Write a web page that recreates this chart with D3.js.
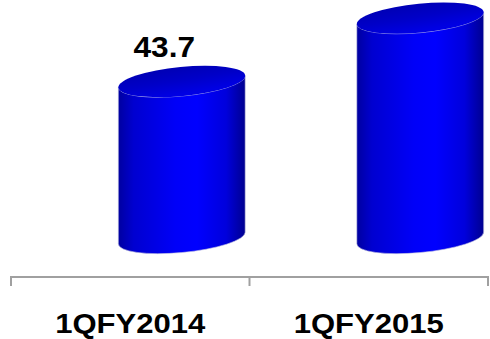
<!DOCTYPE html>
<html>
<head>
<meta charset="utf-8">
<script src="https://cdn.jsdelivr.net/npm/d3@7"></script>
<style>
  html, body { margin: 0; padding: 0; background: #fff; }
  svg { display: block; }
  text { font-family: "Liberation Sans", Arial, sans-serif; font-weight: bold; fill: #000; }
</style>
</head>
<body>
<svg id="chart" width="490" height="339"></svg>
<script>
// Quarterly figures shown as 3D cylinders
const categories = ["1QFY2014", "1QFY2015"];
const values = [43.7, 61.4];
// only the first cylinder carries a value label
const valueLabels = ["43.7", null];

const W = 490, H = 339;
const svg = d3.select("#chart");

// Band scale spans the category axis; ticks sit on band edges
const x = d3.scaleBand().domain(categories).range([11, 488]).paddingInner(0).paddingOuter(0);
// Value scale: zero sits on the cylinder base centre line
const y = d3.scaleLinear().domain([0, 70]).range([238, 238 - 70 * 3.581]);

const barWidth = x.bandwidth() * 0.532;
const barShift = 51.5;           // perspective offset of cylinders from band centre
const labelShift = -17.5;        // value label offset from cylinder centre
const textStretch = 1.09;

// Ellipse geometry for the tilted cylinder caps
const phi = -5.5 * Math.PI / 180;
const b = 14.5;
const halfW = barWidth / 2;
// choose a so the horizontal half-extent equals halfW
const a = Math.sqrt((halfW * halfW - b * b * Math.sin(phi) ** 2) / (Math.cos(phi) ** 2));
const t0 = Math.atan2(-b * Math.sin(phi), a * Math.cos(phi));
const rightDx = a * Math.cos(phi) * Math.cos(t0) - b * Math.sin(phi) * Math.sin(t0);
const rightDy = a * Math.sin(phi) * Math.cos(t0) + b * Math.cos(phi) * Math.sin(t0);
const rotDeg = phi * 180 / Math.PI;

const defs = svg.append("defs");
const side = defs.append("linearGradient").attr("id", "sideGrad")
  .attr("x1", "0").attr("x2", "1").attr("y1", "0").attr("y2", "0");
[[0, "#0000a0"], [0.12, "#0000d0"], [0.45, "#0000f8"], [0.62, "#0000ff"], [0.85, "#0000dc"], [1, "#000090"]]
  .forEach(([o, c]) => side.append("stop").attr("offset", o).attr("stop-color", c));
const topG = defs.append("linearGradient").attr("id", "topGrad")
  .attr("x1", "0").attr("x2", "0.3").attr("y1", "0").attr("y2", "1");
[[0, "#0000b0"], [0.55, "#0000c8"], [1, "#0000e4"]]
  .forEach(([o, c]) => topG.append("stop").attr("offset", o).attr("stop-color", c));

const bars = svg.append("g").selectAll("g").data(categories).join("g");

bars.each(function (c, i) {
  const g = d3.select(this);
  const cx = x(c) + x.bandwidth() / 2 + barShift;
  const yb = y(0), yt = y(values[i]);
  const L = (cy) => [cx - rightDx, cy - rightDy];
  const R = (cy) => [cx + rightDx, cy + rightDy];
  const [lbx, lby] = L(yb), [rbx, rby] = R(yb);
  const [ltx, lty] = L(yt), [rtx, rty] = R(yt);
  // body: left side, front half of base ellipse, right side, front half of top ellipse
  const body = `M${ltx},${lty} L${lbx},${lby} A${a},${b} ${rotDeg} 0 0 ${rbx},${rby} L${rtx},${rty} A${a},${b} ${rotDeg} 0 1 ${ltx},${lty} Z`;
  g.append("path").attr("d", body).attr("fill", "url(#sideGrad)")
    .attr("stroke", "#c8c8e0").attr("stroke-width", 0.6);
  g.append("ellipse")
    .attr("cx", 0).attr("cy", 0).attr("rx", a).attr("ry", b)
    .attr("transform", `translate(${cx},${yt}) rotate(${rotDeg})`)
    .attr("fill", "url(#topGrad)");
  if (valueLabels[i]) {
    g.append("text")
      .attr("text-anchor", "middle")
      .attr("font-size", 29)
      .attr("transform", `translate(${cx + labelShift},${yt - 24.5}) scale(${textStretch},1)`)
      .text(valueLabels[i]);
  }
});

// Category axis with ticks on band boundaries
const axisY = 277;
const edges = categories.map(c => x(c)).concat([x.range()[1]]);
const axis = svg.append("g").attr("stroke", "#a0a0a0").attr("stroke-width", 2);
axis.append("line").attr("x1", x.range()[0] - 1).attr("x2", x.range()[1] + 1)
  .attr("y1", axisY).attr("y2", axisY);
axis.selectAll("line.tick").data(edges).join("line").attr("class", "tick")
  .attr("x1", d => d).attr("x2", d => d).attr("y1", axisY).attr("y2", axisY + 9);

svg.append("g").selectAll("text").data(categories).join("text")
  .attr("text-anchor", "middle")
  .attr("font-size", 28.5)
  .attr("transform", d => `translate(${x(d) + x.bandwidth() / 2},333) scale(${textStretch},1)`)
  .text(d => d);
</script>
</body>
</html>
